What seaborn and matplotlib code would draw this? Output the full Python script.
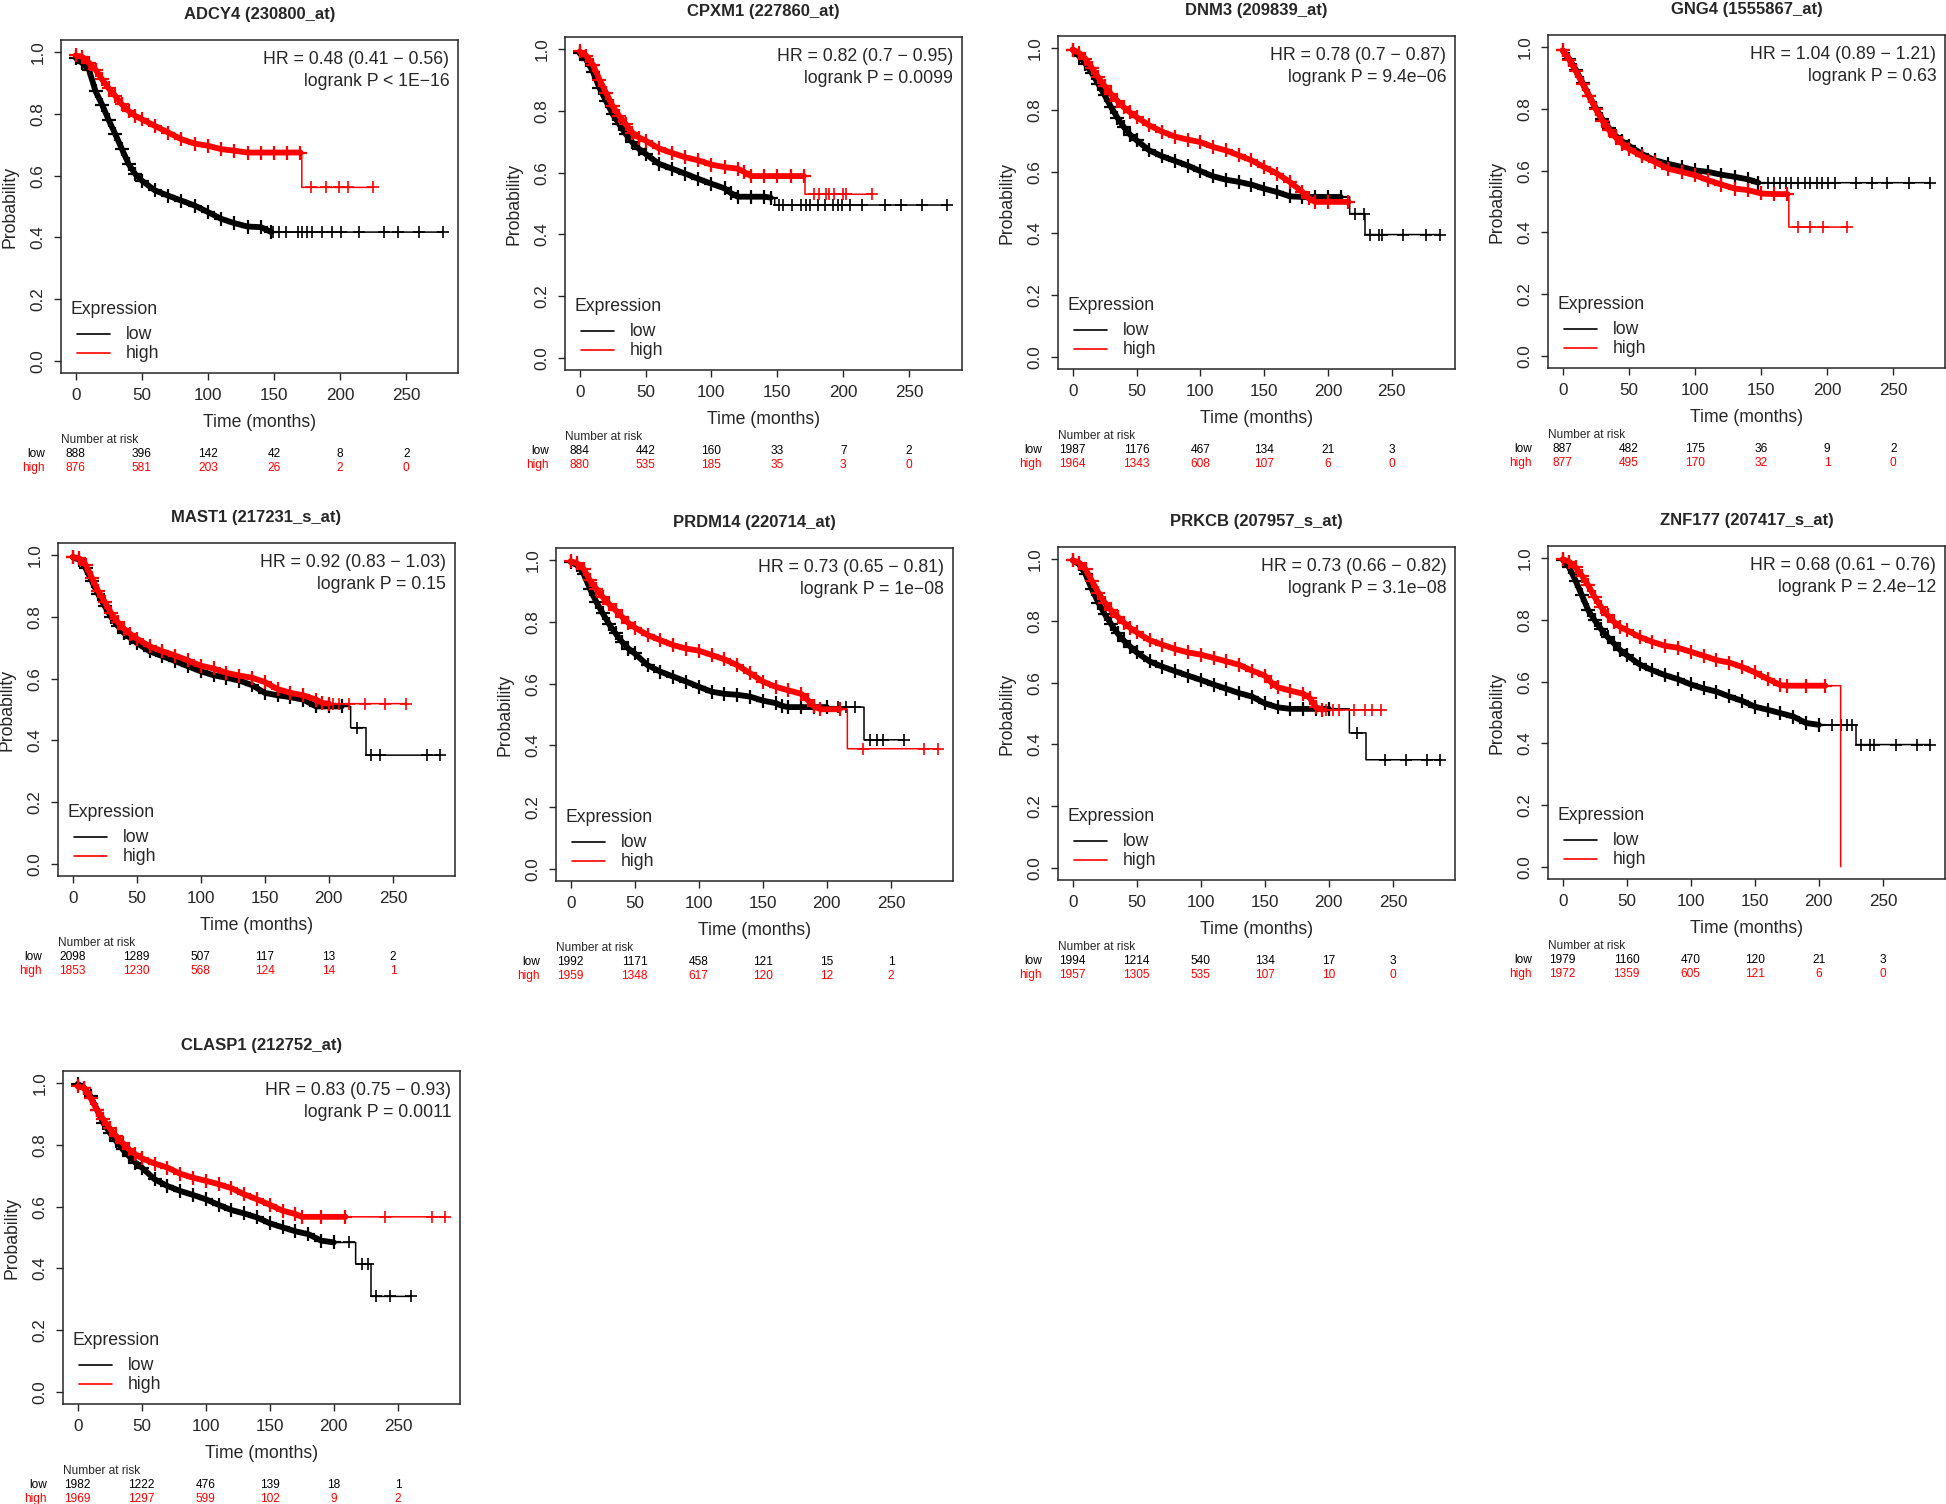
import numpy as np
import seaborn as sns
import matplotlib.pyplot as plt

# ---- data (Kaplan-Meier curves, months / survival) ----
GENES = ['ADCY4 (230800_at)', 'CPXM1 (227860_at)', 'DNM3 (209839_at)', 'GNG4 (1555867_at)',
         'MAST1 (217231_s_at)', 'PRDM14 (220714_at)', 'PRKCB (207957_s_at)', 'ZNF177 (207417_s_at)',
         'CLASP1 (212752_at)']

HR_TEXT = ['HR = 0.48 (0.41 \u2212 0.56)', 'HR = 0.82 (0.7 \u2212 0.95)', 'HR = 0.78 (0.7 \u2212 0.87)',
           'HR = 1.04 (0.89 \u2212 1.21)', 'HR = 0.92 (0.83 \u2212 1.03)', 'HR = 0.73 (0.65 \u2212 0.81)',
           'HR = 0.73 (0.66 \u2212 0.82)', 'HR = 0.68 (0.61 \u2212 0.76)', 'HR = 0.83 (0.75 \u2212 0.93)']
P_TEXT = ['logrank P < 1E\u221216', 'logrank P = 0.0099', 'logrank P = 9.4e\u221206', 'logrank P = 0.63',
          'logrank P = 0.15', 'logrank P = 1e\u221208', 'logrank P = 3.1e\u221208', 'logrank P = 2.4e\u221212',
          'logrank P = 0.0011']

GROUPS = ['low', 'high']
RISK_TIMES = [0, 50, 100, 150, 200, 250]
RISK_LOW = [[888, 396, 142, 42, 8, 2], [884, 442, 160, 33, 7, 2], [1987, 1176, 467, 134, 21, 3],
            [887, 482, 175, 36, 9, 2], [2098, 1289, 507, 117, 13, 2], [1992, 1171, 458, 121, 15, 1],
            [1994, 1214, 540, 134, 17, 3], [1979, 1160, 470, 120, 21, 3], [1982, 1222, 476, 139, 18, 1]]
RISK_HIGH = [[876, 581, 203, 26, 2, 0], [880, 535, 185, 35, 3, 0], [1964, 1343, 608, 107, 6, 0],
             [877, 495, 170, 32, 1, 0], [1853, 1230, 568, 124, 14, 1], [1959, 1348, 617, 120, 12, 2],
             [1957, 1305, 535, 107, 10, 0], [1972, 1359, 605, 121, 6, 0], [1969, 1297, 599, 102, 9, 2]]

# ADCY4
ADCY4_LOW_T = [0, 5, 10, 15, 20, 25, 30, 35, 40, 45, 50, 60, 70, 80, 90, 100, 110, 120, 130, 140, 148, 278]
ADCY4_LOW_S = [0.982, 0.965, 0.944, 0.874, 0.83, 0.78, 0.734, 0.686, 0.638, 0.605, 0.584, 0.552, 0.535,
               0.519, 0.503, 0.482, 0.46, 0.446, 0.435, 0.433, 0.417, 0.417]
ADCY4_LOW_C = [149, 154, 159, 168, 171, 175, 179, 186, 194, 201, 214, 233, 244, 260, 278]
ADCY4_HIGH_T = [0, 5, 10, 15, 20, 25, 30, 35, 40, 45, 50, 60, 70, 80, 90, 100, 110, 120, 130, 140, 150,
                160, 170, 171, 171, 225]
ADCY4_HIGH_S = [0.99, 0.985, 0.966, 0.944, 0.912, 0.883, 0.858, 0.831, 0.81, 0.794, 0.783, 0.761, 0.74,
                0.718, 0.704, 0.697, 0.686, 0.681, 0.675, 0.675, 0.675, 0.675, 0.675, 0.675, 0.562, 0.562]
ADCY4_HIGH_C = [178, 189, 199, 206, 225]

# CPXM1
CPXM1_LOW_T = [0, 5, 10, 15, 20, 25, 30, 35, 40, 45, 50, 60, 70, 80, 90, 100, 110, 115, 120, 130, 140,
               145, 148, 148, 279]
CPXM1_LOW_S = [0.987, 0.966, 0.928, 0.875, 0.832, 0.79, 0.757, 0.725, 0.698, 0.677, 0.661, 0.629, 0.613,
               0.597, 0.58, 0.564, 0.549, 0.533, 0.522, 0.522, 0.522, 0.519, 0.519, 0.495, 0.495]
CPXM1_LOW_C = [151, 154, 161, 168, 172, 175, 181, 186, 192, 196, 199, 205, 214, 232, 244, 260, 279]
CPXM1_HIGH_T = [0, 5, 10, 15, 20, 25, 30, 35, 40, 45, 50, 60, 70, 80, 90, 100, 110, 120, 125, 130, 140,
                150, 160, 170, 171, 171, 222]
CPXM1_HIGH_S = [0.993, 0.979, 0.95, 0.902, 0.859, 0.816, 0.784, 0.757, 0.73, 0.714, 0.704, 0.679, 0.664,
                0.65, 0.64, 0.626, 0.618, 0.613, 0.602, 0.589, 0.589, 0.589, 0.589, 0.589, 0.589, 0.53, 0.53]
CPXM1_HIGH_C = [178, 182, 187, 189, 193, 200, 202, 222]

# DNM3
DNM3_LOW_T = [0, 5, 10, 15, 20, 25, 30, 35, 40, 45, 50, 60, 70, 80, 90, 100, 110, 120, 130, 140, 150, 160,
              170, 180, 190, 200, 210, 217, 217, 229, 229, 288]
DNM3_LOW_S = [0.996, 0.975, 0.95, 0.92, 0.885, 0.848, 0.81, 0.775, 0.745, 0.72, 0.702, 0.669, 0.65, 0.635,
              0.62, 0.602, 0.585, 0.574, 0.567, 0.558, 0.545, 0.534, 0.52, 0.518, 0.518, 0.518, 0.518,
              0.518, 0.464, 0.464, 0.396, 0.396]
DNM3_LOW_C = [221, 228, 233, 240, 242, 259, 277, 288]
DNM3_HIGH_T = [0, 5, 10, 15, 20, 25, 30, 35, 40, 45, 50, 60, 70, 80, 90, 100, 110, 120, 130, 140, 150, 160,
               170, 180, 185, 190, 200, 216]
DNM3_HIGH_S = [0.996, 0.985, 0.966, 0.937, 0.906, 0.878, 0.852, 0.83, 0.809, 0.792, 0.777, 0.75, 0.73,
               0.714, 0.704, 0.696, 0.68, 0.669, 0.653, 0.637, 0.615, 0.594, 0.567, 0.534, 0.513, 0.502,
               0.502, 0.502]
DNM3_HIGH_C = [216]

# GNG4
GNG4_LOW_T = [0, 5, 10, 15, 20, 25, 30, 35, 40, 45, 50, 60, 70, 80, 90, 100, 110, 120, 130, 140, 148, 278]
GNG4_LOW_S = [0.99, 0.962, 0.927, 0.885, 0.842, 0.803, 0.767, 0.738, 0.713, 0.695, 0.681, 0.654, 0.633,
              0.622, 0.612, 0.601, 0.596, 0.587, 0.58, 0.572, 0.561, 0.561]
GNG4_LOW_C = [155, 160, 164, 169, 173, 178, 183, 187, 192, 196, 201, 206, 222, 234, 245, 262, 278]
GNG4_HIGH_T = [0, 5, 10, 15, 20, 25, 30, 35, 40, 45, 50, 60, 70, 80, 90, 100, 110, 120, 130, 140, 150, 160,
               170, 171, 171, 215]
GNG4_HIGH_S = [0.99, 0.96, 0.922, 0.882, 0.842, 0.8, 0.762, 0.732, 0.708, 0.688, 0.671, 0.647, 0.628,
               0.606, 0.596, 0.585, 0.569, 0.555, 0.542, 0.537, 0.526, 0.524, 0.524, 0.524, 0.417, 0.417]
GNG4_HIGH_C = [178, 187, 197, 215]

# MAST1
MAST1_LOW_T = [0, 5, 10, 15, 20, 25, 30, 35, 40, 45, 50, 60, 70, 80, 90, 100, 110, 120, 130, 140, 150, 160,
               170, 180, 190, 200, 210, 217, 217, 229, 229, 287]
MAST1_LOW_S = [0.994, 0.986, 0.959, 0.916, 0.873, 0.835, 0.8, 0.772, 0.748, 0.732, 0.716, 0.689, 0.673,
               0.657, 0.64, 0.624, 0.611, 0.603, 0.594, 0.579, 0.554, 0.546, 0.54, 0.532, 0.51, 0.51, 0.51,
               0.51, 0.441, 0.441, 0.352, 0.352]
MAST1_LOW_C = [222, 233, 240, 277, 287]
MAST1_HIGH_T = [0, 5, 10, 15, 20, 25, 30, 35, 40, 45, 50, 60, 70, 80, 90, 100, 110, 120, 130, 140, 150, 160,
                170, 180, 190, 195, 200, 260]
MAST1_HIGH_S = [0.995, 0.99, 0.97, 0.927, 0.883, 0.849, 0.813, 0.784, 0.762, 0.745, 0.73, 0.705, 0.689,
                0.675, 0.659, 0.642, 0.633, 0.619, 0.61, 0.603, 0.589, 0.566, 0.554, 0.546, 0.532, 0.521,
                0.519, 0.519]
MAST1_HIGH_C = [203, 208, 216, 228, 244, 260]

# PRDM14
PRDM14_LOW_T = [0, 5, 10, 15, 20, 25, 30, 35, 40, 45, 50, 60, 70, 80, 90, 100, 110, 120, 130, 140, 150,
                160, 165, 170, 180, 190, 200, 229, 229, 260]
PRDM14_LOW_S = [0.995, 0.984, 0.957, 0.908, 0.865, 0.828, 0.793, 0.763, 0.736, 0.714, 0.698, 0.66, 0.639,
                0.623, 0.607, 0.59, 0.574, 0.567, 0.564, 0.558, 0.545, 0.537, 0.528, 0.524, 0.524, 0.524,
                0.524, 0.524, 0.418, 0.418]
PRDM14_LOW_C = [209, 215, 222, 234, 239, 244, 260]
PRDM14_HIGH_T = [0, 5, 10, 15, 20, 25, 30, 35, 40, 45, 50, 60, 70, 80, 90, 100, 110, 120, 130, 140, 150,
                 160, 170, 180, 185, 190, 195, 210, 216, 216, 287]
PRDM14_HIGH_S = [0.997, 0.99, 0.973, 0.935, 0.908, 0.881, 0.858, 0.838, 0.817, 0.797, 0.782, 0.758,
                 0.741, 0.725, 0.714, 0.707, 0.693, 0.679, 0.66, 0.634, 0.607, 0.59, 0.578, 0.567, 0.547,
                 0.526, 0.517, 0.517, 0.517, 0.389, 0.389]
PRDM14_HIGH_C = [228, 276, 287]

# PRKCB
PRKCB_LOW_T = [0, 5, 10, 15, 20, 25, 30, 35, 40, 45, 50, 60, 70, 80, 90, 100, 110, 120, 130, 140, 150, 160,
               170, 180, 190, 200, 216, 216, 229, 229, 287]
PRKCB_LOW_S = [0.997, 0.984, 0.952, 0.903, 0.86, 0.822, 0.79, 0.76, 0.736, 0.717, 0.698, 0.669, 0.652,
               0.637, 0.623, 0.609, 0.594, 0.58, 0.566, 0.555, 0.533, 0.52, 0.515, 0.515, 0.515, 0.515,
               0.515, 0.437, 0.437, 0.35, 0.35]
PRKCB_LOW_C = [222, 244, 260, 277, 287]
PRKCB_HIGH_T = [0, 5, 10, 15, 20, 25, 30, 35, 40, 45, 50, 60, 70, 80, 90, 100, 110, 120, 130, 140, 150,
                155, 160, 170, 180, 185, 190, 195, 241]
PRKCB_HIGH_S = [0.997, 0.989, 0.968, 0.93, 0.892, 0.86, 0.835, 0.814, 0.795, 0.777, 0.763, 0.738, 0.723,
                0.709, 0.698, 0.691, 0.68, 0.669, 0.658, 0.639, 0.623, 0.601, 0.585, 0.574, 0.564, 0.551,
                0.52, 0.512, 0.512]
PRKCB_HIGH_C = [198, 203, 208, 220, 228, 234, 241]

# ZNF177
ZNF177_LOW_T = [0, 5, 10, 15, 20, 25, 30, 35, 40, 45, 50, 60, 70, 80, 90, 100, 110, 120, 130, 140, 150,
                160, 170, 180, 190, 200, 229, 229, 287]
ZNF177_LOW_S = [0.996, 0.971, 0.928, 0.88, 0.831, 0.799, 0.77, 0.745, 0.724, 0.702, 0.686, 0.656, 0.637,
                0.621, 0.608, 0.591, 0.578, 0.568, 0.552, 0.538, 0.519, 0.509, 0.498, 0.487, 0.466, 0.46,
                0.46, 0.396, 0.396]
ZNF177_LOW_C = [210, 217, 222, 226, 233, 240, 243, 260, 277, 287]
ZNF177_HIGH_T = [0, 5, 10, 15, 20, 25, 30, 35, 40, 45, 50, 60, 70, 80, 90, 100, 110, 120, 130, 140, 150,
                 160, 170, 175, 190, 205, 217, 217]
ZNF177_HIGH_S = [0.997, 0.989, 0.971, 0.944, 0.912, 0.874, 0.842, 0.815, 0.794, 0.777, 0.767, 0.745,
                 0.729, 0.716, 0.71, 0.697, 0.684, 0.67, 0.662, 0.648, 0.63, 0.609, 0.589, 0.587, 0.587,
                 0.587, 0.587, 0.0]
ZNF177_HIGH_C = []

# CLASP1
CLASP1_LOW_T = [0, 5, 10, 15, 20, 25, 30, 35, 40, 45, 50, 60, 70, 80, 90, 100, 110, 120, 130, 140, 150,
                160, 170, 180, 190, 200, 217, 217, 229, 229, 260]
CLASP1_LOW_S = [0.998, 0.985, 0.958, 0.915, 0.872, 0.84, 0.813, 0.786, 0.764, 0.743, 0.727, 0.689, 0.667,
                0.651, 0.638, 0.624, 0.606, 0.589, 0.578, 0.565, 0.546, 0.533, 0.52, 0.511, 0.49, 0.484,
                0.484, 0.414, 0.414, 0.309, 0.309]
CLASP1_LOW_C = [212, 222, 227, 233, 244, 260]
CLASP1_HIGH_T = [0, 5, 10, 15, 20, 25, 30, 35, 40, 45, 50, 60, 70, 80, 90, 100, 110, 120, 130, 140, 150,
                 160, 170, 175, 190, 209, 287]
CLASP1_HIGH_S = [0.99, 0.985, 0.953, 0.915, 0.883, 0.854, 0.829, 0.807, 0.786, 0.77, 0.757, 0.74, 0.727,
                 0.707, 0.694, 0.684, 0.673, 0.66, 0.64, 0.624, 0.606, 0.587, 0.576, 0.567, 0.567, 0.567,
                 0.567]
CLASP1_HIGH_C = [240, 277, 287]

# end of the densely censored stretch of each curve (low, high)
DENSE_END = [(148, 170), (147, 170), (210, 216), (150, 170), (215, 200), (200, 210), (200, 195),
             (200, 205), (200, 209)]

CURVES = [
    ((ADCY4_LOW_T, ADCY4_LOW_S, ADCY4_LOW_C), (ADCY4_HIGH_T, ADCY4_HIGH_S, ADCY4_HIGH_C)),
    ((CPXM1_LOW_T, CPXM1_LOW_S, CPXM1_LOW_C), (CPXM1_HIGH_T, CPXM1_HIGH_S, CPXM1_HIGH_C)),
    ((DNM3_LOW_T, DNM3_LOW_S, DNM3_LOW_C), (DNM3_HIGH_T, DNM3_HIGH_S, DNM3_HIGH_C)),
    ((GNG4_LOW_T, GNG4_LOW_S, GNG4_LOW_C), (GNG4_HIGH_T, GNG4_HIGH_S, GNG4_HIGH_C)),
    ((MAST1_LOW_T, MAST1_LOW_S, MAST1_LOW_C), (MAST1_HIGH_T, MAST1_HIGH_S, MAST1_HIGH_C)),
    ((PRDM14_LOW_T, PRDM14_LOW_S, PRDM14_LOW_C), (PRDM14_HIGH_T, PRDM14_HIGH_S, PRDM14_HIGH_C)),
    ((PRKCB_LOW_T, PRKCB_LOW_S, PRKCB_LOW_C), (PRKCB_HIGH_T, PRKCB_HIGH_S, PRKCB_HIGH_C)),
    ((ZNF177_LOW_T, ZNF177_LOW_S, ZNF177_LOW_C), (ZNF177_HIGH_T, ZNF177_HIGH_S, ZNF177_HIGH_C)),
    ((CLASP1_LOW_T, CLASP1_LOW_S, CLASP1_LOW_C), (CLASP1_HIGH_T, CLASP1_HIGH_S, CLASP1_HIGH_C)),
]

# panel boxes in pixels: left, top (width 397, height 333)
BOXES = [(61, 40), (565, 37), (1058, 36), (1548, 35),
         (58, 543), (556, 548), (1058, 547), (1548, 546),
         (63, 1071)]

W, H = 1946, 1504
BW, BH = 397, 333
COLORS = ['black', '#ff0000']

sns.set_style('ticks')
plt.rcParams['font.family'] = ['Liberation Sans', 'DejaVu Sans']
plt.rcParams['axes.linewidth'] = 1.0

fig = plt.figure(figsize=(W / 100, H / 100), dpi=100)


def draw_curve(ax, t, s, cens, dense_end, color):
    t = np.asarray(t, float)
    s = np.asarray(s, float)
    # whole curve, thin
    sns.lineplot(x=t, y=s, sort=False, estimator=None, color=color, lw=1.1, ax=ax)
    # densely censored part looks like a thick band of '+' marks
    m = t <= dense_end
    sns.lineplot(x=t[m], y=s[m], sort=False, estimator=None, color=color, lw=4.2, ax=ax)
    ax.plot(t[m], s[m], ls='none', marker='+', ms=9.5, mew=1.6, color=color)
    if len(cens):
        c = np.asarray(cens, float)
        idx = np.searchsorted(t, c, side='right') - 1
        ax.plot(c, s[idx], ls='none', marker='+', ms=8, mew=1.2, color=color)


for i, gene in enumerate(GENES):
    left, top = BOXES[i]
    ax = fig.add_axes([left / W, 1 - (top + BH) / H, BW / W, BH / H])
    tmax = 0
    for j, (t, s, c) in enumerate(CURVES[i]):
        draw_curve(ax, t, s, c, DENSE_END[i][j], COLORS[j])
        tmax = max(tmax, max(t))

    ax.set_xlim(-0.04 * tmax, 1.04 * tmax)
    ax.set_ylim(-0.04, 1.04)
    ax.set_xticks(RISK_TIMES)
    ax.set_xticklabels([str(v) for v in RISK_TIMES])
    ax.set_yticks([0, 0.2, 0.4, 0.6, 0.8, 1.0])
    ax.set_yticklabels(['0.0', '0.2', '0.4', '0.6', '0.8', '1.0'], rotation=90, va='center')
    ax.tick_params(direction='out', length=5, width=1, labelsize=12.3, pad=6)
    for sp in ax.spines.values():
        sp.set_visible(True)
        sp.set_linewidth(1.1)
    ax.set_xlabel('Time (months)', fontsize=12.7, labelpad=8)
    ax.set_ylabel('Probability', fontsize=12.7, labelpad=9)
    ax.set_title(gene, fontsize=12, fontweight='bold', pad=15)

    ax.text(0.978, 0.94, HR_TEXT[i], transform=ax.transAxes, ha='right', va='center', fontsize=12.7)
    ax.text(0.978, 0.874, P_TEXT[i], transform=ax.transAxes, ha='right', va='center', fontsize=12.7)

    # legend in the R style: title, short line keys indented under it
    ax.text(0.025, 0.192, 'Expression', transform=ax.transAxes, ha='left', va='center', fontsize=12.7)
    for j, (g, yk) in enumerate(zip(GROUPS, [0.117, 0.06])):
        ax.plot([0.04, 0.123], [yk, yk], transform=ax.transAxes, color=COLORS[j], lw=1.2)
        ax.text(0.163, yk, g, transform=ax.transAxes, ha='left', va='center', fontsize=12.7)

    # number at risk table
    tr = ax.get_xaxis_transform()
    ax.text(0.0, -0.2, 'Number at risk', transform=ax.transAxes, ha='left', va='center', fontsize=8.6)
    ax.text(-0.04, -0.243, 'low', transform=ax.transAxes, ha='right', va='center', fontsize=8.6,
            color=COLORS[0])
    ax.text(-0.04, -0.285, 'high', transform=ax.transAxes, ha='right', va='center', fontsize=8.6,
            color=COLORS[1])
    for k, tk in enumerate(RISK_TIMES):
        ax.text(tk, -0.243, str(RISK_LOW[i][k]), transform=tr, ha='center', va='center', fontsize=8.6,
                color=COLORS[0])
        ax.text(tk, -0.285, str(RISK_HIGH[i][k]), transform=tr, ha='center', va='center', fontsize=8.6,
                color=COLORS[1])

fig.savefig('out.png', dpi=100)
